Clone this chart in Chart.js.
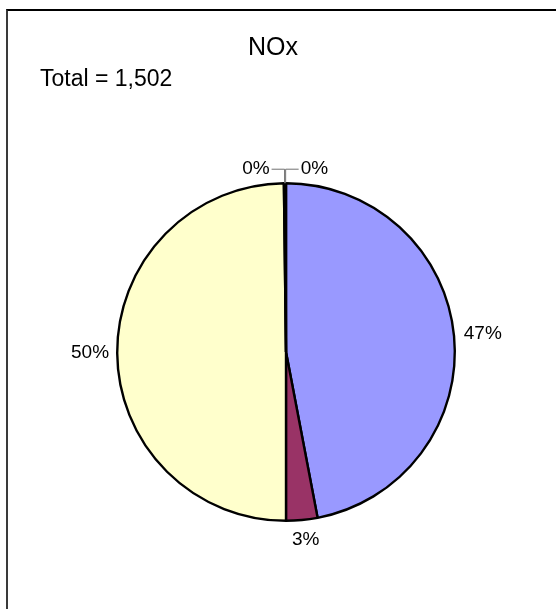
<!DOCTYPE html>
<html>
<head>
<meta charset="utf-8">
<title>NOx</title>
<script src="https://cdn.jsdelivr.net/npm/chart.js@4"></script>
<style>
  html, body { margin: 0; padding: 0; background: #fff; overflow: hidden; }
  #wrap { position: relative; width: 556px; height: 609px; }
  #frame {
    position: absolute; left: 6px; top: 9px; width: 700px; height: 700px;
    border-left: 2px solid #3a3a3a; border-top: 2px solid #000;
  }
  #noxChart { position: absolute; left: 0; top: 0; }
</style>
</head>
<body>
<div id="wrap">
  <div id="frame"></div>
  <canvas id="noxChart" width="556" height="609"></canvas>
</div>
<script>
// NOx share by source - pie chart

const titleText = "NOx";
const totalText = "Total = 1,502";
const categories = ["Source A", "Source B", "Source C", "Source D", "Source E"];
const values = [706, 45, 748, 2, 1];
const colors = ["#9999FF", "#993366", "#FFFFCC", "#CCFFFF", "#660066"];

const font = '"Liberation Sans", Arial, sans-serif';

// ==============================
// Percentage labels + title text
// ==============================
const pieLabels = {
  id: "pieLabels",
  afterDatasetsDraw(chart) {
    const ctx = chart.ctx;
    const meta = chart.getDatasetMeta(0);
    const total = values.reduce((a, b) => a + b, 0);
    let tinySide = -1;

    ctx.save();
    ctx.font = "19px " + font;
    ctx.fillStyle = "#000";
    ctx.textBaseline = "middle";

    meta.data.forEach((arc, i) => {
      const share = values[i] / total;
      const pct = Math.round(share * 100) + "%";
      const mid = (arc.startAngle + arc.endAngle) / 2;
      const dx = Math.cos(mid), dy = Math.sin(mid);
      const r = arc.outerRadius;
      const w = ctx.measureText(pct).width;

      if (share < 0.005) {
        // tiny slices get a leader line, alternating sides
        const ex = arc.x + dx * r, ey = arc.y + dy * r;
        const ly = ey - 14;
        ctx.strokeStyle = "#707070";
        ctx.lineWidth = 1;
        ctx.beginPath();
        ctx.moveTo(ex, ey);
        ctx.lineTo(ex, ly);
        ctx.lineTo(ex + tinySide * 13, ly);
        ctx.stroke();
        ctx.textAlign = tinySide < 0 ? "right" : "left";
        ctx.fillText(pct, ex + tinySide * 15, ly);
        tinySide = -tinySide;
      } else {
        const gap = 8;
        const x = arc.x + dx * (r + gap) + dx * w / 2 + dx * 20 * Math.abs(dy);
        const y = arc.y + dy * (r + gap) + dy * 12;
        ctx.textAlign = "center";
        ctx.fillText(pct, x, y);
      }
    });

    ctx.textAlign = "center";
    ctx.font = "25px " + font;
    ctx.fillText(titleText, 273, 48);
    ctx.textAlign = "left";
    ctx.font = "23px " + font;
    ctx.fillText(totalText, 40, 80);
    ctx.restore();
  }
};

// ==============================
// Chart
// ==============================
const chart = new Chart(document.getElementById("noxChart"), {
  type: "pie",
  data: {
    labels: categories,
    datasets: [{
      data: values,
      backgroundColor: colors,
      borderColor: "#000",
      borderWidth: 2.4
    }]
  },
  options: {
    responsive: false,
    animation: false,
    layout: { padding: { left: 116, right: 100, top: 182, bottom: 87 } },
    plugins: {
      legend: { display: false },
      tooltip: { enabled: false },
      title: { display: false }
    }
  },
  plugins: [pieLabels]
});
</script>
</body>
</html>
